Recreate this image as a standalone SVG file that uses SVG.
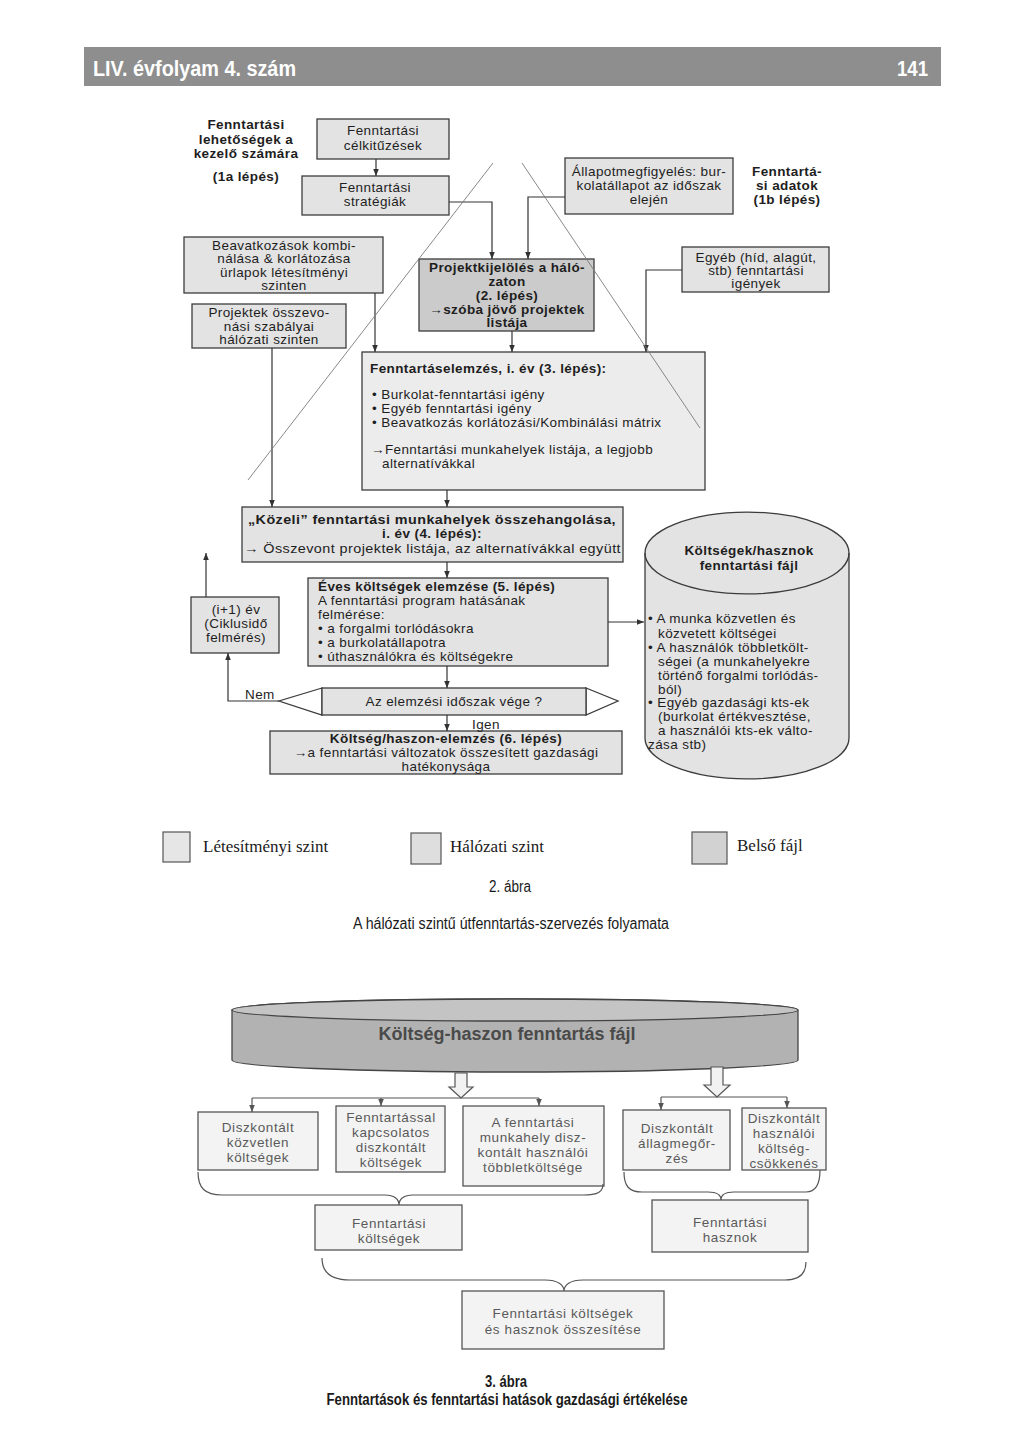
<svg xmlns="http://www.w3.org/2000/svg" width="1024" height="1446" viewBox="0 0 1024 1446">
<style>
.t{font-family:"Liberation Sans",Arial,sans-serif;font-size:13.5px;letter-spacing:0.4px;fill:#1e1e1e}
.b{font-weight:bold}
.m{text-anchor:middle}
.box{fill:#e3e3e3;stroke:#3c3c3c;stroke-width:1.3}
.dk{fill:#cbcbcb}
.lt{fill:#ececec}
.ln{fill:none;stroke:#333;stroke-width:1.2}
.dg{fill:none;stroke:#7a7a7a;stroke-width:0.9}
.g{font-family:"Liberation Sans",Arial,sans-serif;font-size:13.5px;fill:#5a5a5a;text-anchor:middle;letter-spacing:0.6px}
.gb{fill:#f3f3f3;stroke:#555;stroke-width:1.3}
.gl{fill:none;stroke:#555;stroke-width:1.2}
.cap{font-family:"Liberation Sans Narrow","Liberation Sans",Arial,sans-serif;font-size:16px;fill:#1a1a1a;text-anchor:middle}
.leg{font-family:"Liberation Serif","Times New Roman",serif;font-size:17px;fill:#1a1a1a}
</style>
<defs>
<marker id="a" viewBox="0 0 10 10" refX="10" refY="5" markerWidth="7" markerHeight="7" markerUnits="userSpaceOnUse" orient="auto"><path d="M0,1 L10,5 L0,9 Z" fill="#333"/></marker>
<marker id="a2" viewBox="0 0 10 10" refX="10" refY="5" markerWidth="7" markerHeight="7" markerUnits="userSpaceOnUse" orient="auto"><path d="M0,1 L10,5 L0,9 Z" fill="#555"/></marker>
</defs>
<rect width="1024" height="1446" fill="#ffffff"/>

<g id="header">
<rect x="84" y="47" width="857" height="39" fill="#8e8e8e"/>
<text x="93" y="76" font-family="Liberation Sans Narrow,Liberation Sans,Arial,sans-serif" font-size="22" font-weight="bold" fill="#ffffff" textLength="203" lengthAdjust="spacingAndGlyphs">LIV. évfolyam 4. szám</text>
<text x="897" y="76" font-family="Liberation Sans Narrow,Liberation Sans,Arial,sans-serif" font-size="22" font-weight="bold" fill="#ffffff" textLength="31" lengthAdjust="spacingAndGlyphs">141</text>
</g>

<!-- Figure 2 -->
<g id="label-1a" class="t b m">
<text x="246" y="129">Fenntartási</text>
<text x="246" y="144">lehetőségek a</text>
<text x="246" y="158">kezelő számára</text>
<text x="246" y="181">(1a lépés)</text>
</g>
<g id="label-1b" class="t b m">
<text x="787" y="176">Fenntartá-</text>
<text x="787" y="190">si adatok</text>
<text x="787" y="204">(1b lépés)</text>
</g>

<g id="n-celkituzesek">
<rect class="box" x="317" y="119" width="132" height="40"/>
<text class="t m" x="383" y="135">Fenntartási</text>
<text class="t m" x="383" y="150">célkitűzések</text>
</g>
<g id="n-strategiak">
<rect class="box" x="302" y="176" width="147" height="39"/>
<text class="t m" x="375" y="192">Fenntartási</text>
<text class="t m" x="375" y="206">stratégiák</text>
</g>
<g id="n-allapot">
<rect class="box" x="565" y="158" width="168" height="56"/>
<text class="t m" x="649" y="176">Állapotmegfigyelés: bur-</text>
<text class="t m" x="649" y="190">kolatállapot az időszak</text>
<text class="t m" x="649" y="204">elején</text>
</g>
<g id="n-beavatkozasok">
<rect class="box" x="184" y="237" width="199" height="56"/>
<text class="t m" x="284" y="250">Beavatkozások kombi-</text>
<text class="t m" x="284" y="263">nálása &amp; korlátozása</text>
<text class="t m" x="284" y="277">ürlapok létesítményi</text>
<text class="t m" x="284" y="290">szinten</text>
</g>
<g id="n-projektek">
<rect class="box" x="192" y="304" width="154" height="44"/>
<text class="t m" x="269" y="317">Projektek összevo-</text>
<text class="t m" x="269" y="331">nási szabályai</text>
<text class="t m" x="269" y="344">hálózati szinten</text>
</g>
<g id="n-projektkijeloles">
<rect class="box dk" x="419" y="259" width="175" height="72"/>
<text class="t b m" x="507" y="272">Projektkijelölés a háló-</text>
<text class="t b m" x="507" y="286">zaton</text>
<text class="t b m" x="507" y="300">(2. lépés)</text>
<text class="t b m" x="507" y="314">→szóba jövő projektek</text>
<text class="t b m" x="507" y="327">listája</text>
</g>
<g id="n-egyeb">
<rect class="box" x="682" y="247" width="147" height="45"/>
<text class="t m" x="756" y="262">Egyéb (híd, alagút,</text>
<text class="t m" x="756" y="275">stb) fenntartási</text>
<text class="t m" x="756" y="288">igények</text>
</g>
<g id="n-elemzes">
<rect class="box lt" x="362" y="352" width="343" height="138"/>
<text class="t b" x="370" y="373">Fenntartáselemzés, i. év (3. lépés):</text>
<text class="t" x="372" y="399">• Burkolat-fenntartási igény</text>
<text class="t" x="372" y="413">• Egyéb fenntartási igény</text>
<text class="t" x="372" y="427">• Beavatkozás korlátozási/Kombinálási mátrix</text>
<text class="t" x="371" y="454">→Fenntartási munkahelyek listája, a legjobb</text>
<text class="t" x="382" y="468">alternatívákkal</text>
</g>
<g id="n-kozeli">
<rect class="box" x="242" y="507" width="381" height="55"/>
<text class="t b m" x="432" y="524" textLength="368" lengthAdjust="spacingAndGlyphs">„Közeli” fenntartási munkahelyek összehangolása,</text>
<text class="t b m" x="432" y="538">i. év (4. lépés):</text>
<text class="t" x="244" y="553" textLength="377" lengthAdjust="spacingAndGlyphs">→ Összevont projektek listája, az alternatívákkal együtt</text>
</g>
<g id="n-eves">
<rect class="box" x="308" y="578" width="300" height="88"/>
<text class="t b" x="318" y="591">Éves költségek elemzése (5. lépés)</text>
<text class="t" x="318" y="605">A fenntartási program hatásának</text>
<text class="t" x="318" y="619">felmérése:</text>
<text class="t" x="318" y="633">• a forgalmi torlódásokra</text>
<text class="t" x="318" y="647">• a burkolatállapotra</text>
<text class="t" x="318" y="661">• úthasználókra és költségekre</text>
</g>
<g id="n-ciklus">
<rect class="box" x="191" y="597" width="88" height="56" fill="#dcdcdc"/>
<text class="t m" x="236" y="614">(i+1) év</text>
<text class="t m" x="236" y="628">(Ciklusidő</text>
<text class="t m" x="236" y="642">felmérés)</text>
</g>
<g id="n-dontes">
<path d="M322,688 L279,701 L322,715 Z M586,688 L618,701 L586,715 Z" fill="#ffffff" stroke="#3c3c3c" stroke-width="1.3"/>
<rect class="box" x="322" y="688" width="264" height="27"/>
<text class="t m" x="454" y="706">Az elemzési időszak vége ?</text>
</g>
<g id="n-koltseghaszon">
<rect class="box" x="270" y="731" width="352" height="43"/>
<text class="t b m" x="446" y="743">Költség/haszon-elemzés (6. lépés)</text>
<text class="t m" x="446" y="757">→a fenntartási változatok összesített gazdasági</text>
<text class="t m" x="446" y="771">hatékonysága</text>
</g>
<g id="n-fajl1">
<path d="M645,553 A102,41 0 0 1 849,553 V738 A102,41 0 0 1 645,738 Z" fill="#e3e3e3" stroke="#3c3c3c" stroke-width="1.3"/>
<path d="M645,553 A102,41 0 0 0 849,553" fill="none" stroke="#3c3c3c" stroke-width="1.3"/>
<text class="t b m" x="749" y="555">Költségek/hasznok</text>
<text class="t b m" x="749" y="570">fenntartási fájl</text>
<text class="t" x="648" y="623">• A munka közvetlen és</text>
<text class="t" x="658" y="638">közvetett költségei</text>
<text class="t" x="648" y="652">• A használók  többletkölt-</text>
<text class="t" x="658" y="666">ségei (a munkahelyekre</text>
<text class="t" x="658" y="680">történő forgalmi torlódás-</text>
<text class="t" x="658" y="694">ból)</text>
<text class="t" x="648" y="707">• Egyéb gazdasági kts-ek</text>
<text class="t" x="658" y="721">(burkolat értékvesztése,</text>
<text class="t" x="658" y="735">a használói kts-ek válto-</text>
<text class="t" x="648" y="749">zása stb)</text>
</g>

<g id="connectors">
<path class="ln" d="M376,159 V176" marker-end="url(#a)"/>
<path class="ln" d="M449,202 H492 V259" marker-end="url(#a)"/>
<path class="ln" d="M565,197 H528 V259" marker-end="url(#a)"/>
<path class="ln" d="M375,293 V352" marker-end="url(#a)"/>
<path class="ln" d="M512,331 V352" marker-end="url(#a)"/>
<path class="ln" d="M682,270 H646 V352" marker-end="url(#a)"/>
<path class="ln" d="M272,348 V507" marker-end="url(#a)"/>
<path class="ln" d="M447,490 V507" marker-end="url(#a)"/>
<path class="ln" d="M447,562 V578" marker-end="url(#a)"/>
<path class="ln" d="M608,622 H644" marker-end="url(#a)"/>
<path class="ln" d="M447,666 V688" marker-end="url(#a)"/>
<path class="ln" d="M447,715 V731" marker-end="url(#a)"/>
<path class="ln" d="M279,701 H228 V653" marker-end="url(#a)"/>
<path class="ln" d="M206,597 V553" marker-end="url(#a)"/>
<text class="t" x="245" y="699">Nem</text>
<text class="t" x="472" y="729">Igen</text>
<path class="dg" d="M493,163 L248,480"/>
<path class="dg" d="M522,163 L700,428"/>
</g>

<g id="legend">
<rect x="163" y="832" width="27" height="30" fill="#e6e6e6" stroke="#555" stroke-width="1.2"/>
<text class="leg" x="203" y="852">Létesítményi szint</text>
<rect x="411" y="833" width="30" height="31" fill="#dedede" stroke="#555" stroke-width="1.2"/>
<text class="leg" x="450" y="852">Hálózati szint</text>
<rect x="692" y="832" width="35" height="32" fill="#d2d2d2" stroke="#555" stroke-width="1.2"/>
<text class="leg" x="737" y="851">Belső fájl</text>
</g>
<g id="caption2">
<text class="cap" x="510" y="892" textLength="42" lengthAdjust="spacingAndGlyphs">2. ábra</text>
<text class="cap" x="511" y="929" textLength="316" lengthAdjust="spacingAndGlyphs">A hálózati szintű útfenntartás-szervezés folyamata</text>
</g>

<!-- Figure 3 -->
<g id="n-fajl2">
<path d="M232,1010 A283,11 0 0 1 798,1010 V1060 A283,12 0 0 1 232,1060 Z" fill="#b2b2b2" stroke="#444" stroke-width="1.3"/>
<ellipse cx="515" cy="1010" rx="283" ry="11" fill="#c4c4c4" stroke="#444" stroke-width="1.3"/>
<text x="507" y="1040" font-family="Liberation Sans,Arial,sans-serif" font-size="18" font-weight="bold" fill="#4a4a4a" text-anchor="middle">Költség-haszon fenntartás fájl</text>
</g>
<g id="n-b1">
<rect class="gb" x="198" y="1112" width="120" height="58"/>
<text class="g" x="258" y="1132">Diszkontált</text>
<text class="g" x="258" y="1147">közvetlen</text>
<text class="g" x="258" y="1162">költségek</text>
</g>
<g id="n-b2">
<rect class="gb" x="336" y="1106" width="109" height="66"/>
<text class="g" x="391" y="1122">Fenntartással</text>
<text class="g" x="391" y="1137">kapcsolatos</text>
<text class="g" x="391" y="1152">diszkontált</text>
<text class="g" x="391" y="1167">költségek</text>
</g>
<g id="n-b3">
<rect class="gb" x="463" y="1106" width="141" height="80"/>
<text class="g" x="533" y="1127">A fenntartási</text>
<text class="g" x="533" y="1142">munkahely disz-</text>
<text class="g" x="533" y="1157">kontált használói</text>
<text class="g" x="533" y="1172">többletköltsége</text>
</g>
<g id="n-b4">
<rect class="gb" x="623" y="1110" width="107" height="60"/>
<text class="g" x="677" y="1133">Diszkontált</text>
<text class="g" x="677" y="1148">állagmegőr-</text>
<text class="g" x="677" y="1163">zés</text>
</g>
<g id="n-b5">
<rect class="gb" x="742" y="1108" width="84" height="62"/>
<text class="g" x="784" y="1123" letter-spacing="0.2">Diszkontált</text>
<text class="g" x="784" y="1138">használói</text>
<text class="g" x="784" y="1153">költség-</text>
<text class="g" x="784" y="1168">csökkenés</text>
</g>
<g id="n-fk">
<rect class="gb" x="315" y="1205" width="147" height="45"/>
<text class="g" x="389" y="1228">Fenntartási</text>
<text class="g" x="389" y="1243">költségek</text>
</g>
<g id="n-fh">
<rect class="gb" x="652" y="1200" width="156" height="52"/>
<text class="g" x="730" y="1227">Fenntartási</text>
<text class="g" x="730" y="1242">hasznok</text>
</g>
<g id="n-osszes">
<rect class="gb" x="462" y="1291" width="202" height="58"/>
<text class="g" x="563" y="1318">Fenntartási költségek</text>
<text class="g" x="563" y="1334">és hasznok összesítése</text>
</g>

<g id="connectors3">
<path d="M455,1073 H467 V1087 H473 L461,1098 L449,1087 H455 Z" fill="#f2f2f2" stroke="#555" stroke-width="1.2"/>
<path d="M711,1067 H723 V1085 H730 L717,1097 L704,1085 H711 Z" fill="#f2f2f2" stroke="#555" stroke-width="1.2"/>
<path class="gl" d="M252,1098 H539"/>
<path class="gl" d="M252,1098 V1112" marker-end="url(#a2)"/>
<path class="gl" d="M381,1098 V1106" marker-end="url(#a2)"/>
<path class="gl" d="M539,1098 V1106" marker-end="url(#a2)"/>
<path class="gl" d="M661,1097 H787"/>
<path class="gl" d="M661,1097 V1110" marker-end="url(#a2)"/>
<path class="gl" d="M787,1097 V1108" marker-end="url(#a2)"/>
<path class="gl" d="M198,1172 C198,1188 205,1195 222,1195 L385,1195 C394,1195 399,1199 399,1205 C399,1199 404,1195 413,1195 L583,1195 C598,1195 603,1192 603,1184"/>
<path class="gl" d="M624,1172 C624,1186 629,1192 642,1192 L708,1192 C717,1192 721,1195 721,1200 C721,1195 725,1192 734,1192 L806,1192 C816,1192 820,1184 820,1170"/>
<path class="gl" d="M322,1258 C322,1273 332,1280 350,1280 L545,1280 C558,1280 564,1285 564,1291 C564,1285 570,1280 583,1280 L785,1280 C800,1280 806,1273 806,1262"/>
</g>
<g id="caption3">
<text class="cap b" x="506" y="1387" textLength="42" lengthAdjust="spacingAndGlyphs">3. ábra</text>
<text class="cap b" x="507" y="1405" textLength="361" lengthAdjust="spacingAndGlyphs">Fenntartások és fenntartási hatások gazdasági értékelése</text>
</g>
</svg>
